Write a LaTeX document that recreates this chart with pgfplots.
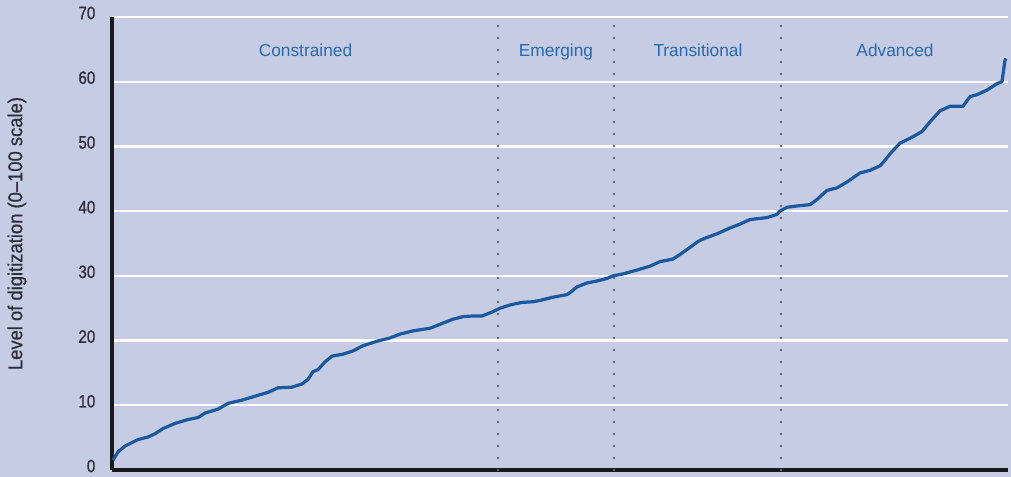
\documentclass[border=0pt]{standalone}
\usepackage{pgfplots}
\pgfplotsset{compat=1.18}
\usepackage{fontspec}
\setmainfont{Liberation Sans}
\newfontfamily\narrowfont{Liberation Sans}[FakeStretch=0.84,FakeBold=0.8,Ligatures=TeX]
\newfontfamily\labfont{Liberation Sans}[FakeStretch=0.92,FakeBold=0.6,Ligatures=TeX]
\definecolor{bg}{RGB}{197,204,228}
\definecolor{curve}{RGB}{26,88,160}
\definecolor{lab}{RGB}{40,105,180}
\definecolor{dotc}{RGB}{100,100,112}
\definecolor{txt}{RGB}{45,45,60}
\begin{document}
\begin{tikzpicture}
\path[use as bounding box, fill=bg] (0,0) rectangle (758.25pt,357.75pt);
\begin{axis}[
  at={(84pt,5.25pt)}, anchor=origin,
  scale only axis, width=672pt, height=339.75pt,
  xmin=0, xmax=896, ymin=0, ymax=70,
  axis x line*=bottom, axis y line*=left,
  axis line style={line width=3pt, black!90, -},
  xtick=\empty,
  ytick={0,10,...,70},
  ymajorgrids, grid style={white, line width=1.8pt},
  major tick length=0pt,
  /pgf/number format/assume math mode=true,
  yticklabel style={font=\narrowfont\fontsize{13.5pt}{15pt}\selectfont, text=txt, xshift=-9pt, yshift=3pt},
  ylabel={Level of digitization (0–100 scale)},
  ylabel style={at={(axis description cs:-0.106,0.522)}, anchor=center, font=\labfont\fontsize{15pt}{17pt}\selectfont, text=txt},
  clip=false,
]
\addplot[dotc, line width=2pt, dash pattern=on 0pt off 9pt, line cap=round] coordinates {(386,0) (386,70)};
\addplot[dotc, line width=2pt, dash pattern=on 0pt off 9pt, line cap=round] coordinates {(502,0) (502,70)};
\addplot[dotc, line width=2pt, dash pattern=on 0pt off 9pt, line cap=round] coordinates {(669,0) (669,70)};
\addplot[curve, line width=2.4pt, line join=round] coordinates {
(1,1.5) (6,2.8) (13,3.7) (26,4.7) (36,5.1) (43,5.6) (51,6.4) (63,7.2) (76,7.8) (86,8.1)
(93,8.8) (106,9.4) (116,10.3) (130,10.8) (143,11.4) (156,12.0) (166,12.7) (180,12.8)
(190,13.3) (196,14.0) (201,15.2) (206,15.5) (213,16.7) (220,17.6) (231,17.9) (241,18.4)
(251,19.2) (265,19.9) (278,20.4) (288,21.0) (301,21.5) (318,21.9) (331,22.7) (341,23.3)
(351,23.7) (361,23.8) (370,23.8) (380,24.4) (388,25.0) (398,25.5) (410,25.9) (421,26.0)
(428,26.2) (441,26.7) (455,27.1) (458,27.4) (465,28.3) (475,28.9) (485,29.2) (495,29.6)
(501,30.0) (511,30.3) (525,30.9) (538,31.5) (548,32.2) (561,32.6) (568,33.3) (578,34.4)
(586,35.3) (591,35.7) (605,36.5) (618,37.4) (628,38.0) (638,38.7) (655,39.0) (665,39.5)
(668,40.0) (675,40.6) (685,40.8) (698,41.0) (705,41.8) (715,43.2) (725,43.6) (735,44.5)
(748,45.9) (758,46.3) (768,47.0) (771,47.5) (780,49.2) (788,50.5) (801,51.5) (810,52.3)
(818,53.8) (828,55.5) (838,56.2) (851,56.2) (858,57.7) (865,58.0) (875,58.7) (885,59.7)
(890,60.0) (893,63.3) (894,63.6)};
\node[anchor=base, text=lab, font=\fontsize{13pt}{15pt}\selectfont] at (axis cs:193.5,63.85) {Constrained};
\node[anchor=base, text=lab, font=\fontsize{13pt}{15pt}\selectfont] at (axis cs:444,63.85) {Emerging};
\node[anchor=base, text=lab, font=\fontsize{13pt}{15pt}\selectfont] at (axis cs:586,63.85) {Transitional};
\node[anchor=base, text=lab, font=\fontsize{13pt}{15pt}\selectfont] at (axis cs:783,63.85) {Advanced};
\end{axis}
\end{tikzpicture}
\end{document}
